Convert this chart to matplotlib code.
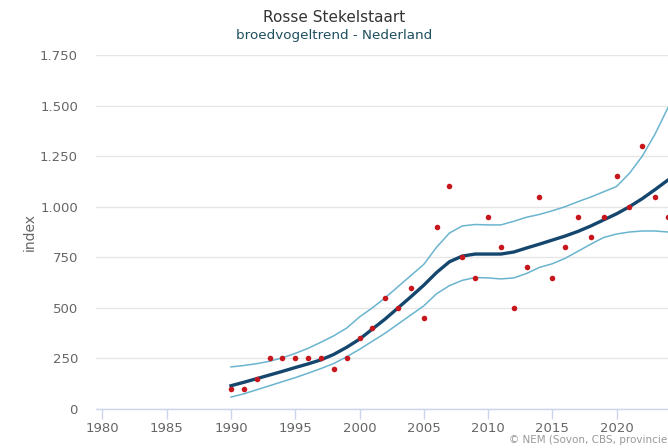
import matplotlib
matplotlib.use("Agg")
import matplotlib.pyplot as plt
from matplotlib.ticker import FuncFormatter

plt.rcParams["font.family"] = ["Liberation Sans Narrow", "DejaVu Sans"]

years = list(range(1990, 2025))

# jaarlijkse indexwaarden (punten)
index_points = [100, 100, 150, 250, 250, 250, 250, 250, 200, 250,
                350, 400, 550, 500, 600, 450, 900, 1100, 750, 650,
                950, 800, 500, 700, 1050, 650, 800, 950, 850, 950,
                1150, 1000, 1300, 1050, 950]

# trendlijn
trend = [115, 132, 150, 168, 186, 205, 223, 243, 270, 305,
         345, 395, 445, 500, 555, 612, 675, 728, 756, 766,
         766, 766, 776, 796, 815, 835, 855, 878, 905, 935,
         965, 1000, 1040, 1085, 1132]

# betrouwbaarheidsgrenzen
upper = [208, 215, 224, 236, 253, 275, 300, 330, 362, 400,
         455, 500, 550, 605, 660, 715, 800, 870, 905, 912,
         910, 910, 928, 948, 962, 980, 1000, 1025, 1048, 1074,
         1100, 1165, 1250, 1360, 1490]
lower = [59, 75, 95, 115, 135, 155, 177, 200, 225, 258,
         295, 335, 375, 420, 465, 510, 570, 610, 636, 650,
         648, 643, 648, 670, 700, 718, 745, 780, 815, 848,
         865, 875, 880, 880, 875]

x_ticks = list(range(1980, 2021, 5))
y_ticks = list(range(0, 1751, 250))

fig = plt.figure(figsize=(6.68, 4.48), dpi=100)
ax = fig.add_axes([96 / 668, 1 - 409 / 448, 1 - 96 / 668, (409 - 55) / 448])

ax.plot(years, upper, color="#6ab4cf", lw=1.1, zorder=2)
ax.plot(years, lower, color="#6ab4cf", lw=1.1, zorder=2)
ax.plot(years, trend, color="#14466e", lw=2.4, zorder=3)
ax.plot(years, index_points, "o", color="#c8161d", ms=4, mec="none", zorder=4)

ax.set_xlim(1979.5, 2024)
ax.set_ylim(0, 1750)
ax.set_xticks(x_ticks)
ax.set_yticks(y_ticks)


def dutch(v, pos):
    return f"{int(v):,}".replace(",", ".")


ax.yaxis.set_major_formatter(FuncFormatter(dutch))
ax.grid(axis="y", color="#e6e6e6", lw=1)
ax.set_axisbelow(True)
for s in ["top", "right", "left"]:
    ax.spines[s].set_visible(False)
ax.spines["bottom"].set_color("#ccd6eb")
ax.spines["bottom"].set_linewidth(1)
ax.tick_params(axis="x", direction="out", length=7, width=1, color="#ccd6eb",
               labelcolor="#666666", labelsize=9.5, pad=2)
ax.tick_params(axis="y", length=0, labelcolor="#666666", labelsize=9.5, pad=13)

ax.set_ylabel("index", color="#666666", fontsize=10, labelpad=2)

fig.text(0.5, 1 - 17 / 448, "Rosse Stekelstaart", ha="center", va="center",
         fontsize=11, color="#333333")
fig.text(0.5, 1 - 36 / 448, "broedvogeltrend - Nederland", ha="center", va="center",
         fontsize=9.7, color="#1f5060")
fig.text(667 / 668, 1 - 440 / 448, "© NEM (Sovon, CBS, provincie", ha="right",
         va="center", fontsize=7.5, color="#999999")

fig.savefig("out.png", dpi=100)
